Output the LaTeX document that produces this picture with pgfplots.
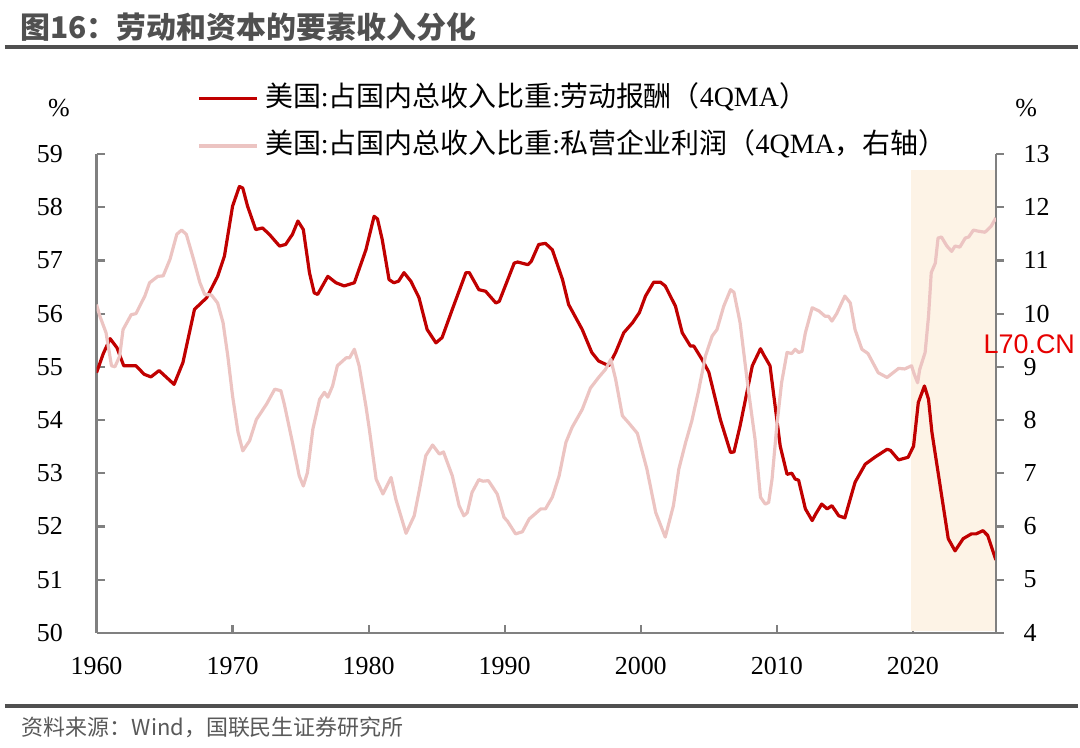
\documentclass[border=0pt]{standalone}
\usepackage{fontspec}
\setmainfont{Liberation Serif}
\newfontfamily\cjk{Noto Sans CJK SC}
\newfontfamily\wmfont{Liberation Sans}
\usepackage{pgfplots}
\pgfplotsset{compat=1.18}

\definecolor{labour}{RGB}{192,0,0}
\definecolor{profit}{RGB}{236,196,194}
\definecolor{axisgray}{RGB}{128,128,128}
\definecolor{titlegray}{RGB}{80,80,80}
\definecolor{notegray}{RGB}{89,89,89}
\definecolor{bandfill}{RGB}{253,243,230}
\definecolor{mark}{RGB}{230,0,0}

% labour compensation share of GDI, 4-quarter moving average (left axis)
\pgfplotstableread{
year share
1960.0 54.89
1960.5 55.25
1961.0 55.53
1961.5 55.36
1962.0 55.02
1962.9 55.02
1963.5 54.86
1964.0 54.81
1964.6 54.93
1965.7 54.67
1966.35 55.08
1967.2 56.08
1968.1 56.30
1968.9 56.70
1969.4 57.08
1970.0 58.02
1970.5 58.39
1970.75 58.36
1971.1 58.02
1971.7 57.58
1972.2 57.61
1972.7 57.49
1973.45 57.27
1973.9 57.30
1974.4 57.49
1974.8 57.74
1975.2 57.58
1975.65 56.77
1976.0 56.39
1976.25 56.36
1977.0 56.70
1977.6 56.58
1978.2 56.52
1978.95 56.58
1979.8 57.20
1980.4 57.83
1980.65 57.78
1981.0 57.39
1981.5 56.64
1981.85 56.58
1982.2 56.61
1982.6 56.77
1983.1 56.61
1983.7 56.30
1984.3 55.70
1984.95 55.45
1985.4 55.55
1986.15 56.08
1987.15 56.77
1987.4 56.77
1988.1 56.45
1988.6 56.42
1989.35 56.20
1989.6 56.23
1990.7 56.95
1990.95 56.97
1991.7 56.92
1991.95 56.98
1992.5 57.30
1993.0 57.32
1993.5 57.20
1994.25 56.64
1994.7 56.17
1995.7 55.70
1996.4 55.27
1996.9 55.11
1997.65 55.02
1998.15 55.27
1998.75 55.64
1999.4 55.83
1999.9 56.02
2000.35 56.33
2000.95 56.59
2001.45 56.59
2001.8 56.52
2002.55 56.14
2003.05 55.64
2003.65 55.39
2003.9 55.39
2004.5 55.14
2005.0 54.90
2005.85 54.01
2006.6 53.39
2006.85 53.40
2007.3 53.89
2008.2 55.02
2008.8 55.34
2009.05 55.22
2009.5 55.02
2010.25 53.51
2010.75 52.98
2011.1 53.00
2011.35 52.89
2011.6 52.87
2012.1 52.33
2012.6 52.11
2012.85 52.23
2013.3 52.42
2013.7 52.33
2014.05 52.39
2014.55 52.20
2015.0 52.16
2015.75 52.83
2016.5 53.17
2017.2 53.30
2018.1 53.45
2018.35 53.43
2018.95 53.25
2019.65 53.30
2020.05 53.51
2020.4 54.33
2020.85 54.64
2021.15 54.39
2021.4 53.77
2022.0 52.77
2022.6 51.77
2023.1 51.54
2023.7 51.77
2024.3 51.86
2024.65 51.86
2025.15 51.92
2025.5 51.83
2026.1 51.37
}\labourtable

% private enterprise profit share of GDI, 4-quarter moving average (right axis)
\pgfplotstableread{
year share
1960.0 10.17
1960.25 9.95
1960.7 9.64
1961.1 9.02
1961.35 9.00
1961.7 9.20
1961.95 9.70
1962.55 9.98
1962.9 10.00
1963.55 10.33
1963.9 10.58
1964.5 10.70
1964.9 10.71
1965.4 11.02
1965.9 11.49
1966.25 11.57
1966.6 11.49
1967.1 11.05
1967.6 10.58
1967.95 10.36
1968.45 10.35
1968.9 10.20
1969.3 9.83
1969.65 9.20
1970.0 8.45
1970.4 7.77
1970.75 7.42
1971.25 7.61
1971.75 8.01
1972.5 8.30
1973.1 8.58
1973.55 8.55
1973.8 8.30
1974.4 7.58
1974.9 6.95
1975.2 6.76
1975.5 7.01
1975.9 7.83
1976.4 8.39
1976.75 8.52
1977.0 8.43
1977.35 8.64
1977.7 9.02
1978.35 9.17
1978.6 9.17
1978.95 9.33
1979.3 9.02
1979.8 8.26
1980.05 7.83
1980.55 6.89
1981.05 6.61
1981.65 6.92
1982.0 6.51
1982.75 5.87
1983.35 6.20
1983.7 6.65
1984.2 7.33
1984.7 7.53
1985.2 7.36
1985.5 7.40
1986.15 6.95
1986.65 6.39
1987.0 6.20
1987.25 6.26
1987.6 6.64
1988.1 6.88
1988.4 6.85
1988.8 6.86
1989.45 6.61
1989.95 6.17
1990.2 6.10
1990.8 5.86
1991.3 5.90
1991.8 6.14
1992.3 6.25
1992.65 6.33
1993.0 6.33
1993.5 6.55
1994.0 6.95
1994.5 7.58
1994.95 7.86
1995.7 8.20
1996.3 8.60
1996.9 8.80
1997.4 8.95
1997.8 9.14
1998.15 8.77
1998.65 8.08
1999.1 7.95
1999.75 7.75
2000.45 7.08
2001.1 6.26
2001.8 5.80
2002.4 6.39
2002.8 7.08
2003.3 7.58
2003.75 7.98
2004.25 8.55
2004.75 9.20
2005.25 9.58
2005.6 9.70
2006.1 10.14
2006.6 10.45
2006.85 10.40
2007.3 9.83
2007.9 8.58
2008.4 7.64
2008.8 6.55
2009.15 6.42
2009.4 6.45
2009.65 6.89
2010.0 7.89
2010.35 8.70
2010.75 9.27
2011.1 9.25
2011.35 9.33
2011.6 9.27
2011.85 9.29
2012.1 9.64
2012.6 10.11
2013.1 10.05
2013.55 9.95
2013.8 9.95
2014.05 9.86
2014.4 10.00
2015.0 10.33
2015.4 10.20
2015.75 9.70
2016.25 9.33
2016.7 9.25
2017.45 8.89
2018.1 8.80
2018.55 8.89
2018.95 8.97
2019.4 8.96
2019.9 9.02
2020.1 8.86
2020.35 8.70
2020.5 8.95
2020.9 9.27
2021.15 9.95
2021.35 10.77
2021.65 10.95
2021.85 11.42
2022.1 11.44
2022.5 11.27
2022.85 11.17
2023.1 11.27
2023.45 11.25
2023.85 11.42
2024.1 11.44
2024.45 11.57
2024.8 11.55
2025.3 11.53
2025.75 11.64
2026.1 11.80
}\profittable

\pgfplotsset{
  twin/.style={
    at={(48.35pt,57.5pt)}, anchor=south west,
    width=450.5pt, height=239.85pt, scale only axis,
    xmin=1960, xmax=2026.1,
    axis line style={axisgray, line width=1.1pt, -},
    major tick length=4pt,
    every tick/.style={axisgray, line width=1.1pt},
    tick label style={font=\fontsize{13}{15}\selectfont, inner sep=0pt},
    /pgf/number format/assume math mode=true,
    /pgf/number format/1000 sep={},
  },
}

\begin{document}
\begin{tikzpicture}
\path (0,0) rectangle (540pt,374.5pt);

% heading and rules
\node[anchor=base west, inner sep=0pt, text=titlegray,
      font=\cjk\bfseries\fontsize{15}{18}\selectfont]
  at (10pt,355pt) {图16：劳动和资本的要素收入分化};
\draw[titlegray, line width=2pt] (2.5pt,351pt) -- (540pt,351pt);
\draw[titlegray, line width=2pt] (2.5pt,21pt) -- (540pt,21pt);
\node[anchor=base west, inner sep=0pt, text=notegray,
      font=\cjk\fontsize{11}{13}\selectfont]
  at (10.8pt,6pt) {资料来源：Wind，国联民生证券研究所};

% unit labels
\node[font=\fontsize{13}{15}\selectfont, inner sep=0pt] at (29.5pt,320.5pt) {\%};
\node[font=\fontsize{13}{15}\selectfont, inner sep=0pt] at (514pt,320.5pt) {\%};

\begin{axis}[twin,
  ymin=50, ymax=59, ytick={50,51,...,59},
  xtick={1960,1970,...,2020},
  axis x line*=bottom, axis y line*=left,
  yticklabel shift=16.7pt, xticklabel shift=12pt,
]
  % highlighted recent period
  \fill[bandfill] (axis cs:2019.87,50.03) rectangle (axis cs:2026.05,58.7);
  \addplot[labour, line width=1.6pt, line join=round] table[x=year, y=share] {\labourtable};
\end{axis}

\begin{axis}[twin,
  ymin=4, ymax=13, ytick={4,5,...,13},
  axis x line=none, axis y line*=right,
  tick align=outside,
  yticklabel shift=9.7pt,
  legend cell align=left,
  legend style={draw=none, fill=none, at={(rel axis cs:0.1113,1.146)}, anchor=north west,
    inner sep=0pt, row sep=9.8pt, column sep=3.3pt,
    font=\fontsize{14}{16}\selectfont,
    nodes={inner sep=0pt, text height=11pt, text depth=3pt}},
  legend image code/.code={\draw[#1] (0pt,0pt) -- (29pt,0pt);},
]
  \addlegendimage{labour, line width=1.8pt}
  \addlegendentry{{\cjk 美国}:{\cjk 占国内总收入比重}:{\cjk 劳动报酬（}4QMA{\cjk ）}}
  \addplot[profit, line width=1.6pt, line join=round] table[x=year, y=share] {\profittable};
  \addlegendentry{{\cjk 美国}:{\cjk 占国内总收入比重}:{\cjk 私营企业利润（}4QMA{\cjk ，右轴）}}
\end{axis}

\node[anchor=west, inner sep=0pt, text=mark, font=\wmfont\fontsize{13.5}{15}\selectfont]
  at (492.5pt,202pt) {L70.CN};
\end{tikzpicture}
\end{document}
